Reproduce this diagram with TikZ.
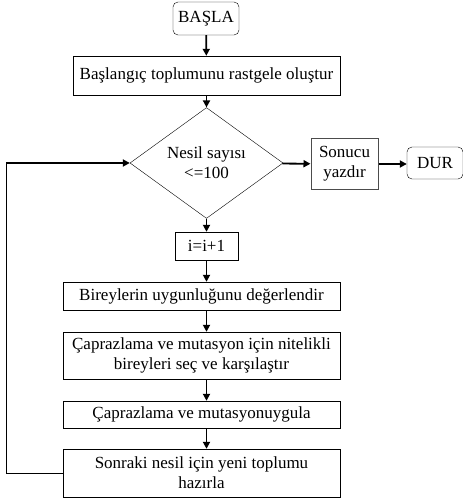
\documentclass[tikz,border=0pt]{standalone}
\usepackage{fontspec}
\setmainfont{Liberation Serif}
\usetikzlibrary{shapes.geometric,arrows.meta}

\begin{document}
\begin{tikzpicture}[x=1pt,y=1pt,font=\fontsize{17}{20}\selectfont]

\tikzstyle{process}=[draw,rectangle,inner sep=0pt,align=center]
\tikzstyle{terminal}=[draw,rectangle,rounded corners=5pt,inner sep=0pt]
\tikzstyle{decision}=[draw,diamond,inner sep=0pt,align=center]
\tikzstyle{edge}=[-{Triangle[length=7pt,width=7pt]},line width=1.8pt]

\useasboundingbox (0,0) rectangle (462,-502);

\node[terminal,minimum width=66,minimum height=33](start) at (206,-18.5){BAŞLA};
\node[process,minimum width=267,minimum height=39](init) at (206.5,-75.5){Başlangıç toplumunu rastgele oluştur};
\node[decision,minimum width=153,minimum height=95](cond) at (206.5,-163){Nesil sayısı\\<=100};
\node[process,minimum width=67,minimum height=51,line width=1pt,draw=black!70](out) at (344.5,-164){Sonucu\\yazdır};
\node[terminal,minimum width=56,minimum height=32](stop) at (435,-163){DUR};
\node[process,minimum width=63,minimum height=28](inc) at (206.5,-246){i=i+1};
\node[process,minimum width=277,minimum height=28](eval) at (201.5,-296){Bireylerin uygunluğunu değerlendir};
\node[process,minimum width=277,minimum height=47](sel) at (201.5,-355.5){Çaprazlama ve mutasyon için nitelikli\\bireyleri seç ve karşılaştır};
\node[process,minimum width=277,minimum height=27](cross) at (201.5,-414.5){Çaprazlama ve mutasyonuygula};
\node[process,minimum width=277,minimum height=48](next) at (201.5,-473){Sonraki nesil için yeni toplumu\\hazırla};

\coordinate (loop) at (6,-163);

\draw[edge](start)--(init);
\draw[edge](init)--(cond);
\draw[edge](cond)--(out);
\draw[edge](out.east)--(stop.west|-out.east);
\draw[edge](cond)--(inc);
\draw[edge](inc.south)--(inc.south|-eval.north);
\draw[edge](eval.south-|inc)--(sel.north-|inc);
\draw[edge](sel.south-|inc)--(cross.north-|inc);
\draw[edge](cross.south-|inc)--(next.north-|inc);
\draw(next.west)-|(loop);
\draw[edge](loop)--(cond.west);

\end{tikzpicture}
\end{document}
